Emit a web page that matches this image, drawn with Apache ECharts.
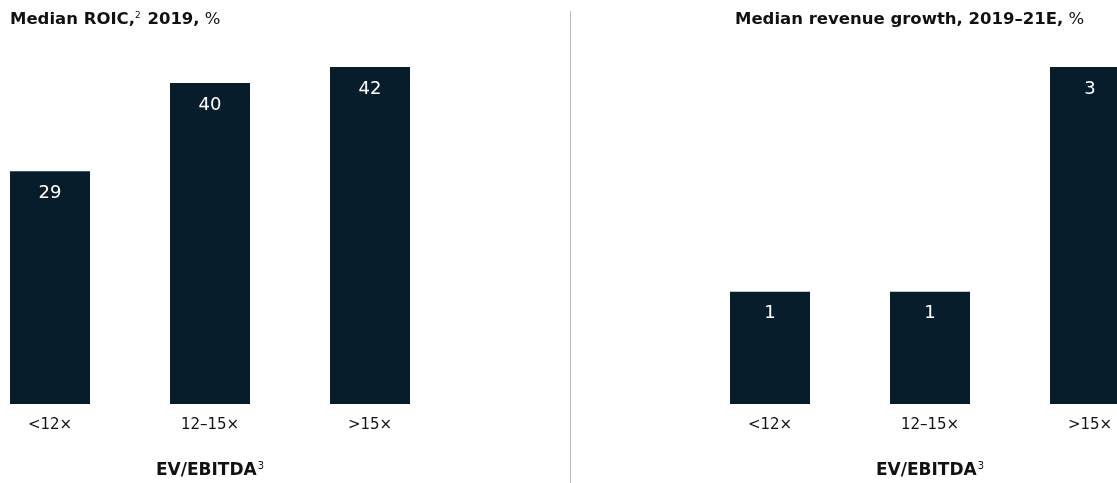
<!DOCTYPE html>
<html>
<head>
<meta charset="utf-8">
<script src="https://cdn.jsdelivr.net/npm/echarts@6/dist/echarts.min.js"></script>
<style>
html,body{margin:0;padding:0;background:#fff;}
#main{width:1117px;height:483px;}
</style>
</head>
<body>
<div id="main"></div>
<script>
const categories = ['<12×', '12–15×', '>15×'];
const roicValues = [29, 40, 42];
const growthValues = [1, 1, 3];
const leftTitle = ['Median ROIC,', '2', ' 2019,', ' %'];
const rightTitle = ['Median revenue growth, 2019–21E,', ' %'];
const axisLabel = 'EV/EBITDA';

const FONT = '"DejaVu Sans", sans-serif';
const BAR = '#071d2c';
const TXT = '#111';

const chart = echarts.init(document.getElementById('main'));

function xAxis(idx) {
  return {
    type: 'category', gridIndex: idx, data: categories,
    axisLine: {show: false}, axisTick: {show: false},
    axisLabel: {color: TXT, fontSize: 15, fontFamily: FONT, margin: 14},
    name: '{b|' + axisLabel + '}{s|3}',
    nameLocation: 'middle', nameGap: 57,
    nameTextStyle: {
      rich: {
        b: {fontSize: 17, fontWeight: 'bold', color: TXT, fontFamily: FONT},
        s: {fontSize: 10, fontWeight: 'normal', color: TXT, fontFamily: FONT, padding: [0, 0, 9, 1]}
      }
    }
  };
}
function yAxis(idx, max) {
  return {type: 'value', gridIndex: idx, min: 0, max: max, show: false, splitLine: {show: false}};
}
function bars(idx, data) {
  return {
    type: 'bar', xAxisIndex: idx, yAxisIndex: idx, data: data, barWidth: 80,
    itemStyle: {color: BAR},
    label: {show: true, position: 'insideTop', distance: 13, color: '#fff', fontSize: 18, fontFamily: FONT}
  };
}

chart.setOption({
  animation: false,
  title: [
    {
      left: 5, top: 6,
      text: '{b|' + leftTitle[0] + '}{s|' + leftTitle[1] + '}{b|' + leftTitle[2] + '}{n|' + leftTitle[3] + '}',
      textStyle: {
        fontWeight: 'normal',
        rich: {
          b: {fontSize: 16.5, fontWeight: 'bold', color: TXT, fontFamily: FONT},
          s: {fontSize: 9, fontWeight: 'normal', color: TXT, fontFamily: FONT, padding: [0, 1, 9, 0]},
          n: {fontSize: 16.5, fontWeight: 'normal', color: TXT, fontFamily: FONT}
        }
      }
    },
    {
      left: 730, top: 6,
      text: '{b|' + rightTitle[0] + '}{n|' + rightTitle[1] + '}',
      textStyle: {
        fontWeight: 'normal',
        rich: {
          b: {fontSize: 16.5, fontWeight: 'bold', color: TXT, fontFamily: FONT},
          n: {fontSize: 16.5, fontWeight: 'normal', color: TXT, fontFamily: FONT}
        }
      }
    }
  ],
  grid: [
    {left: -30, width: 480, top: 67, height: 337, outerBoundsMode: 'none', containLabel: false},
    {left: 690, width: 480, top: 67, height: 337, outerBoundsMode: 'none', containLabel: false}
  ],
  xAxis: [xAxis(0), xAxis(1)],
  yAxis: [yAxis(0, 42), yAxis(1, 3)],
  series: [bars(0, roicValues), bars(1, growthValues)],
  graphic: [
    {type: 'line', shape: {x1: 570.5, y1: 11, x2: 570.5, y2: 483}, style: {stroke: '#bbbbbb', lineWidth: 1}}
  ]
});
</script>
</body>
</html>
